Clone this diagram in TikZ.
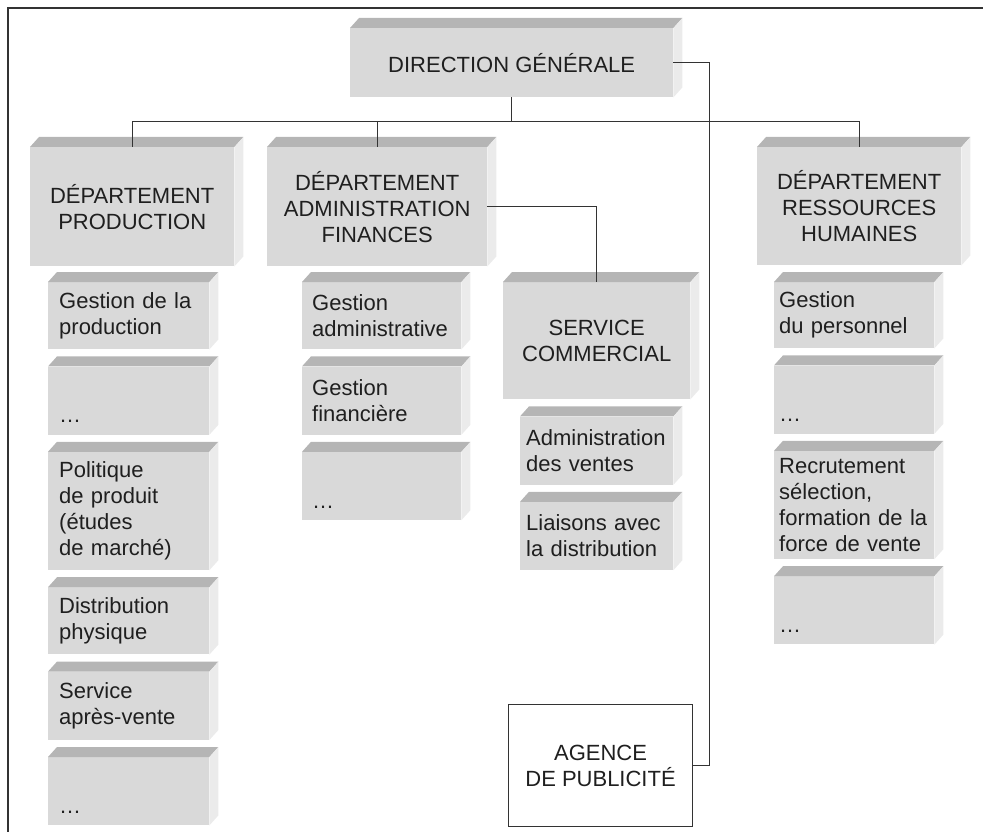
\documentclass[tikz,border=0pt]{standalone}
\usepackage{fontspec}
\setmainfont{Liberation Sans}
\definecolor{colorFace}{gray}{0.85}
\definecolor{colorTop}{gray}{0.71}
\definecolor{colorSide}{gray}{0.92}
\definecolor{colorLine}{gray}{0.2}
\definecolor{colorText}{gray}{0.12}
\usetikzlibrary{positioning}
\tikzset{
  bloc/.style={fill=colorFace, text=colorText, font=\fontsize{22}{26}\selectfont, inner ysep=4pt, anchor=north west},
  titre/.style={bloc, align=center, inner xsep=4pt},
  sous/.style 2 args={bloc, align=left, inner xsep=#1, text width=#2},
  sousP/.style={sous={11pt}{139pt}},
  sousA/.style={sous={10pt}{139pt}},
  sousV/.style={sous={6pt}{141pt}},
  sousR/.style={sous={5pt}{150pt}},
  lien/.style={draw=colorLine, line width=1.1pt}
}

\begin{document}
\begin{tikzpicture}[x=1pt, y=-1pt, node distance=17pt]
\useasboundingbox (0,0) rectangle (983,832);
\draw[colorLine, line width=1.3pt] (8,832) -- (8,8) -- (983,8);

\node[titre, minimum width=323pt, minimum height=69pt] (dg) at (350,28) {DIRECTION GÉNÉRALE};
\node[titre, minimum width=204pt, minimum height=119pt] (prod) at (30,147) {DÉPARTEMENT\\PRODUCTION};
\node[titre, minimum width=220pt, minimum height=119pt] (admin) at (267,147) {DÉPARTEMENT\\ADMINISTRATION\\FINANCES};
\node[titre, minimum width=204pt, minimum height=118pt] (rh) at (757,147) {DÉPARTEMENT\\RESSOURCES\\HUMAINES};
\node[titre, minimum width=187pt, minimum height=117pt] (sc) at (503,282) {SERVICE\\COMMERCIAL};
\node[titre, fill=white, draw=colorLine, line width=1.1pt, minimum width=184pt, minimum height=122pt] (agence) at (508,704) {AGENCE\\DE PUBLICITÉ};

\node[sousP, minimum height=67pt] (p1) at (48,282) {Gestion de la\\production};
\node[sousP, minimum height=68pt, below=of p1] (p2) {\strut\\…};
\node[sousP, minimum height=118pt, below=of p2] (p3) {Politique\\de produit\\(études\\de marché)};
\node[sousP, minimum height=67pt, below=of p3] (p4) {Distribution\\physique};
\node[sousP, minimum height=68pt, below=of p4] (p5) {Service\\après-vente};
\node[sousP, minimum height=68pt, below=of p5] (p6) {\strut\\…};

\node[sousA, minimum height=67pt] (a1) at (302,282) {Gestion\\administrative};
\node[sousA, minimum height=68pt, below=of a1] (a2) {Gestion\\financière};
\node[sousA, minimum height=68pt, below=of a2] (a3) {\strut\\…};

\node[sousV, minimum height=68pt, below=of sc] (v1) {Administration\\des ventes};
\node[sousV, minimum height=68pt, below=of v1] (v2) {Liaisons avec\\la distribution};

\node[sousR, minimum height=66pt] (r1) at (774,282) {Gestion\\du personnel};
\node[sousR, minimum height=68pt, below=of r1] (r2) {\strut\\…};
\node[sousR, minimum height=108pt, below=of r2] (r3) {Recrutement\\sélection,\\formation de la\\force de vente};
\node[sousR, minimum height=68pt, below=of r3] (r4) {\strut\\…};

\foreach \n in {dg,prod,admin,rh,sc,p1,p2,p3,p4,p5,p6,a1,a2,a3,v1,v2,r1,r2,r3,r4} {
  \fill[colorTop] (\n.north west) -- ++(9,-10) -- ([shift={(9,-10)}]\n.north east) -- (\n.north east) -- cycle;
  \fill[colorSide] (\n.north east) -- ++(9,-10) -- ([shift={(9,-10)}]\n.south east) -- (\n.south east) -- cycle;
}

\coordinate (bus) at ([yshift=-24pt]dg.south);
\draw[lien] (dg.south) -- (bus);
\draw[lien] (prod.north) |- (bus) -| (rh.north);
\draw[lien] (admin.north) -- (admin.north |- bus);
\draw[lien] (admin.east) -| (sc.north);
\draw[lien] (dg.east) -- ++(36,0) |- (agence.east);
\end{tikzpicture}
\end{document}
